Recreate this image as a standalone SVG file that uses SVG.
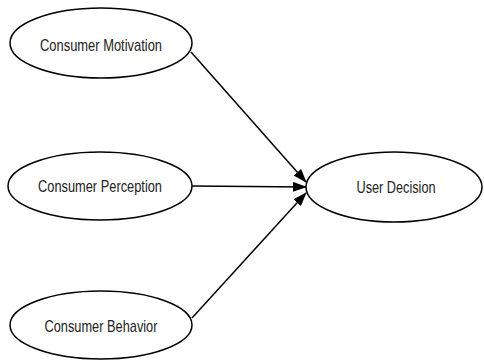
<svg xmlns="http://www.w3.org/2000/svg" width="484" height="361" viewBox="0 0 484 361">
<style>
.n{fill:#fff;stroke:#000;stroke-width:1.5}
.t{font-family:"Liberation Sans",Arial,sans-serif;font-size:17px;fill:#222;text-anchor:middle}
.e{stroke:#000;stroke-width:1.5;fill:none;marker-end:url(#a)}
</style>
<defs>
<marker id="a" markerWidth="14" markerHeight="10" refX="13" refY="5" orient="auto" markerUnits="userSpaceOnUse">
<path d="M0,0 L14,5 L0,10 z" fill="#000"/>
</marker>
</defs>
<rect width="484" height="361" fill="#fff"/>
<g id="edges">
<line class="e" x1="191" y1="52" x2="306" y2="182"/>
<line class="e" x1="192" y1="186" x2="306" y2="187"/>
<line class="e" x1="192" y1="318" x2="306" y2="193"/>
</g>
<g id="motivation">
<ellipse class="n" cx="101" cy="43" rx="91" ry="35"/>
<text class="t" x="101" y="51" textLength="122" lengthAdjust="spacingAndGlyphs">Consumer Motivation</text>
</g>
<g id="perception">
<ellipse class="n" cx="100" cy="186" rx="92" ry="34"/>
<text class="t" x="100" y="192" textLength="124" lengthAdjust="spacingAndGlyphs">Consumer Perception</text>
</g>
<g id="behavior">
<ellipse class="n" cx="101" cy="325" rx="91" ry="34"/>
<text class="t" x="101" y="332" textLength="113" lengthAdjust="spacingAndGlyphs">Consumer Behavior</text>
</g>
<g id="decision">
<ellipse class="n" cx="394" cy="187" rx="88" ry="35"/>
<text class="t" x="396" y="193" textLength="79" lengthAdjust="spacingAndGlyphs">User Decision</text>
</g>
</svg>
